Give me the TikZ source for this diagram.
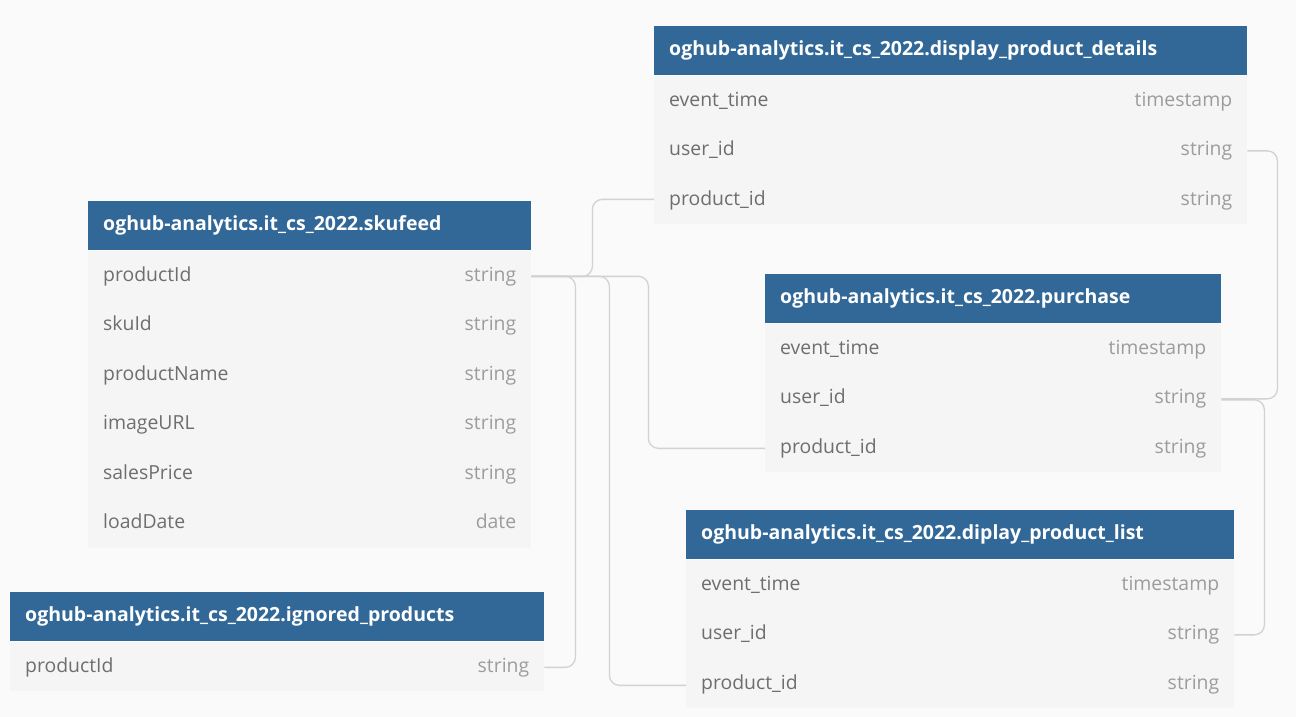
\documentclass[tikz,border=0pt]{standalone}
\usepackage{fontspec}
\setmainfont{Open Sans}
\usetikzlibrary{calc}
\definecolor{bgc}{HTML}{FAFAFA}
\definecolor{rowc}{HTML}{F5F5F5}
\definecolor{hdrc}{HTML}{316897}
\definecolor{namec}{HTML}{6E6E6E}
\definecolor{typec}{HTML}{9C9C9C}
\definecolor{linec}{HTML}{D2D2D2}
\tikzset{
  hdrbox/.style={fill=hdrc, draw=none, inner sep=0pt, minimum height=49pt},
  rowbox/.style={fill=rowc, draw=none, inner sep=0pt, minimum height=49.5pt},
  hdrtext/.style={text=white, inner sep=0pt, font=\fontsize{19.5}{22}\selectfont\bfseries},
  nametext/.style={text=namec, inner sep=0pt, font=\fontsize{19.4}{22}\selectfont},
  typetext/.style={text=typec, inner sep=0pt, font=\fontsize{19.4}{22}\selectfont},
  conn/.style={draw=linec, line width=1.3pt, rounded corners=10pt}
}
\newcommand\dbtable[6]{%
  \node[hdrbox, minimum width=#4pt, anchor=north west] (#1) at (#2,#3) {};
  \node[hdrtext, anchor=base west] (#1-title) at ([xshift=15pt,yshift=-5pt]#1.west) {#5};
  \foreach \n/\t [count=\i] in {#6} {
    \node[rowbox, minimum width=#4pt, anchor=north west] (#1-\i) at ($(#1.south west)+(0,{49.5*(\i-1)})$) {};
    \node[nametext, anchor=base west] (#1-\i-name) at ([xshift=15pt,yshift=-5.8pt]#1-\i.west) {\n};
    \node[typetext, anchor=base east] (#1-\i-type) at ([xshift=-15pt,yshift=-5.8pt]#1-\i.east) {\t};
  }
}
\begin{document}
\begin{tikzpicture}[x=1pt,y=-1pt]
\fill[bgc] (0,0) rectangle (1296,717);
\useasboundingbox (0,0) rectangle (1296,717);
\dbtable{disp}{654}{26}{593}{oghub-analytics.it\_cs\_2022.display\_product\_details}{event\_time/timestamp, user\_id/string, product\_id/string}
\dbtable{sku}{88}{201}{443}{oghub-analytics.it\_cs\_2022.skufeed}{productId/string, skuId/string, productName/string, imageURL/string, salesPrice/string, loadDate/date}
\dbtable{pur}{765}{274}{456}{oghub-analytics.it\_cs\_2022.purchase}{event\_time/timestamp, user\_id/string, product\_id/string}
\dbtable{list}{686}{510}{548}{oghub-analytics.it\_cs\_2022.diplay\_product\_list}{event\_time/timestamp, user\_id/string, product\_id/string}
\dbtable{ign}{10}{592}{534}{oghub-analytics.it\_cs\_2022.ignored\_products}{productId/string}
% connectors
\draw[conn] ([yshift=-1pt]sku-1.east) -- ++(61,0) |- (disp-3.west);
\draw[conn] ([yshift=-1pt]sku-1.east) -- ++(117,0) |- ([yshift=-1pt]pur-3.west);
\draw[conn] ([yshift=-1pt]sku-1.east) -- ++(78,0) |- ([yshift=-2pt]list-3.west);
\draw[conn] ([yshift=-1pt]sku-1.east) -- ++(44,0) |- ([yshift=-1pt]ign-1.east);
\draw[conn] ([yshift=-1pt]disp-2.east) -- ++(30,0) |- ([yshift=-1pt]pur-2.east);
\draw[conn] ([yshift=-2pt]pur-2.east) -- ++(43,0) |- ([yshift=-1pt]list-2.east);
\end{tikzpicture}
\end{document}
